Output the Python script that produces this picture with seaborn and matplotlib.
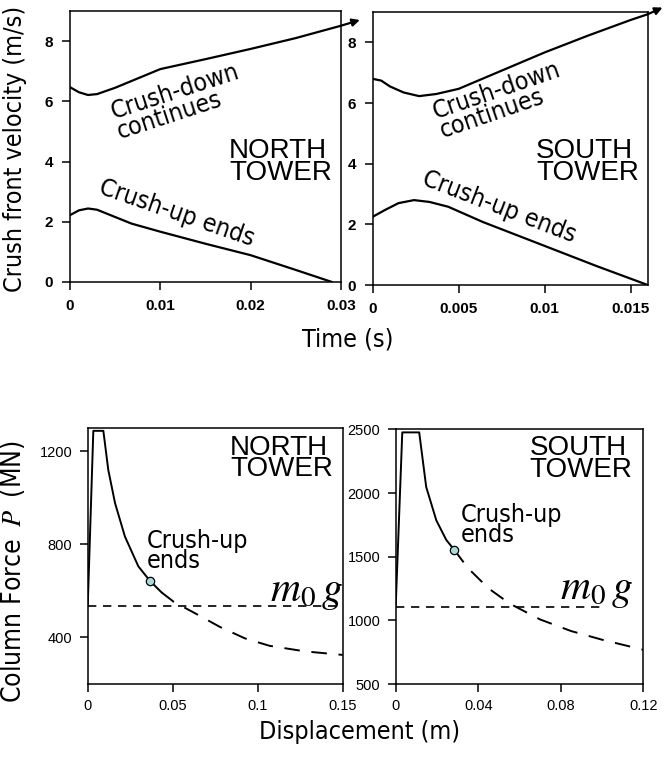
import numpy as np
import pandas as pd
import matplotlib
matplotlib.use("Agg")
import matplotlib.pyplot as plt
from matplotlib import font_manager
import seaborn as sns

# crush front velocity, top panels
north_t_down = [0, 0.001, 0.002, 0.003, 0.005, 0.01, 0.015, 0.02, 0.025, 0.03]
north_v_down = [6.47, 6.30, 6.21, 6.24, 6.45, 7.07, 7.40, 7.74, 8.10, 8.51]
north_t_up = [0, 0.001, 0.002, 0.003, 0.0068, 0.01, 0.015, 0.02, 0.025, 0.029]
north_v_up = [2.22, 2.38, 2.44, 2.40, 1.94, 1.67, 1.27, 0.89, 0.40, 0.0]

south_t_down = [0, 0.0005, 0.001, 0.0018, 0.0027, 0.0037, 0.005, 0.0075, 0.01, 0.0125, 0.015, 0.016]
south_v_down = [6.80, 6.74, 6.55, 6.35, 6.23, 6.30, 6.47, 7.07, 7.67, 8.22, 8.74, 8.93]
south_t_up = [0, 0.0007, 0.0015, 0.0024, 0.0033, 0.0044, 0.0064, 0.01, 0.013, 0.016]
south_v_up = [2.25, 2.47, 2.70, 2.80, 2.74, 2.58, 2.08, 1.29, 0.63, 0.0]

# column force, bottom panels
north_x_solid = [0, 0.0033, 0.0092, 0.0121, 0.0161, 0.0219, 0.0298, 0.0366, 0.0435]
north_P_solid = [533, 1287, 1287, 1119, 976, 833, 705, 643, 593]
north_x_dash = [0.0435, 0.0504, 0.0641, 0.0778, 0.0925, 0.107, 0.128, 0.15]
north_P_dash = [593, 554, 500, 445, 396, 364, 340, 325]
north_end = (0.0366, 643)
north_m0g = 533

south_x_solid = [0, 0.0032, 0.0114, 0.0148, 0.0197, 0.0245, 0.0284]
south_P_solid = [1105, 2476, 2476, 2047, 1785, 1632, 1553]
south_x_dash = [0.0284, 0.035, 0.045, 0.0553, 0.07, 0.085, 0.1, 0.12]
south_P_dash = [1553, 1411, 1251, 1131, 1007, 916, 848, 769]
south_end = (0.0284, 1553)
south_m0g = 1105

sns.set_style("ticks")

# look for a narrow sans face; otherwise use Liberation Sans a bit smaller
narrow, stretch, lab_size = "Liberation Sans", "normal", 17.5
for f in font_manager.fontManager.ttflist:
    if f.style != "normal" or f.weight not in (400, "normal", "regular"):
        continue
    if "Narrow" in f.name or "Condensed" in f.name or f.stretch in ("condensed", "semi-condensed"):
        if "Serif" in f.name or "Mono" in f.name:
            continue
        narrow, stretch, lab_size = f.name, f.stretch, 18
        break

plt.rcParams["font.family"] = ["Liberation Sans", "DejaVu Sans"]
plt.rcParams["mathtext.fontset"] = "stix"
plt.rcParams["text.color"] = "black"
plt.rcParams["axes.labelcolor"] = "black"
plt.rcParams["axes.edgecolor"] = "black"
plt.rcParams["xtick.color"] = "black"
plt.rcParams["ytick.color"] = "black"
plt.rcParams["axes.linewidth"] = 1.1
plt.rcParams["xtick.major.width"] = 1.1
plt.rcParams["ytick.major.width"] = 1.1
plt.rcParams["xtick.major.size"] = 6
plt.rcParams["ytick.major.size"] = 6

fig = plt.figure(figsize=(6.64, 7.58), dpi=100)
ax_tl = fig.add_axes([0.1054, 0.628, 0.408, 0.3575])
ax_tr = fig.add_axes([0.5613, 0.624, 0.4142, 0.360])
ax_bl = fig.add_axes([0.1321, 0.0976, 0.384, 0.338])
ax_br = fig.add_axes([0.5959, 0.0976, 0.3729, 0.336])

lw = 1.6
for ax, td, vd, tu, vu in [(ax_tl, north_t_down, north_v_down, north_t_up, north_v_up),
                           (ax_tr, south_t_down, south_v_down, south_t_up, south_v_up)]:
    sns.lineplot(x=td, y=vd, ax=ax, color="k", lw=lw, sort=False, estimator=None)
    sns.lineplot(x=tu, y=vu, ax=ax, color="k", lw=lw, sort=False, estimator=None)
    ax.set_ylim(0, 9)
    ax.set_yticks([0, 2, 4, 6, 8])

ax_tl.set_xlim(0, 0.03)
ax_tl.set_xticks([0, 0.01, 0.02, 0.03])
ax_tl.set_xticklabels(["0", "0.01", "0.02", "0.03"])
ax_tr.set_xlim(0, 0.016)
ax_tr.set_xticks([0, 0.005, 0.01, 0.015])
ax_tr.set_xticklabels(["0", "0.005", "0.01", "0.015"])

arrow = dict(arrowstyle="-|>", lw=lw, color="k", mutation_scale=11, shrinkA=0, shrinkB=0)
ax_tl.annotate("", xy=(0.0321, 8.70), xytext=(north_t_down[-1], north_v_down[-1]),
               arrowprops=arrow, annotation_clip=False)
ax_tr.annotate("", xy=(0.01686, 9.15), xytext=(south_t_down[-1], south_v_down[-1]),
               arrowprops=arrow, annotation_clip=False)

# bottom panels
for ax, xs, ps, xd, pdash, end, m0g, xmax, hl_end in [
        (ax_bl, north_x_solid, north_P_solid, north_x_dash, north_P_dash, north_end, north_m0g, 0.15, 0.15),
        (ax_br, south_x_solid, south_P_solid, south_x_dash, south_P_dash, south_end, south_m0g, 0.12, 0.101)]:
    sns.lineplot(x=xs, y=ps, ax=ax, color="k", lw=1.4, sort=False, estimator=None)
    sns.lineplot(x=xd, y=pdash, ax=ax, color="k", lw=1.4, sort=False, estimator=None,
                 linestyle=(0, (8, 6)))
    ax.hlines(m0g, 0, hl_end, color="k", lw=1.2, linestyles=(0, (5, 4)))
    ax.plot([end[0]], [end[1]], "o", ms=6, mfc="#aad8dc", mec="k", mew=0.9, zorder=5)
    ax.set_xlim(0, xmax)

ax_bl.set_ylim(200, 1300)
ax_bl.set_yticks([400, 800, 1200])
ax_bl.set_xticks([0, 0.05, 0.1, 0.15])
ax_bl.set_xticklabels(["0", "0.05", "0.1", "0.15"])
ax_br.set_ylim(500, 2500)
ax_br.set_yticks([500, 1000, 1500, 2000, 2500])
ax_br.set_xticks([0, 0.04, 0.08, 0.12])
ax_br.set_xticklabels(["0", "0.04", "0.08", "0.12"])

for ax in (ax_tl, ax_tr):
    ax.tick_params(labelsize=11, pad=6)
    for lab in ax.get_xticklabels() + ax.get_yticklabels():
        lab.set_fontweight("bold")
for ax in (ax_bl, ax_br):
    ax.tick_params(labelsize=10.5, pad=5)

# tower names
tower = dict(fontsize=20, ha="left", va="center", linespacing=0.78, family="Liberation Sans")
ax_tl.text(0.587, 0.443, "NORTH\nTOWER", transform=ax_tl.transAxes, **tower)
ax_tr.text(0.594, 0.45, "SOUTH\nTOWER", transform=ax_tr.transAxes, **tower)
ax_bl.text(0.558, 0.880, "NORTH\nTOWER", transform=ax_bl.transAxes, **tower)
ax_br.text(0.54, 0.883, "SOUTH\nTOWER", transform=ax_br.transAxes, **tower)

# curve annotations
nf = dict(family=narrow, fontstretch=stretch)
note = dict(fontsize=lab_size, ha="center", va="center", rotation_mode="anchor",
            multialignment="left", linespacing=0.8, **nf)
ax_tl.text(0.01196, 5.99, "Crush-down\ncontinues", rotation=18, **note)
ax_tl.text(0.0118, 2.30, "Crush-up ends", rotation=-19, **note)
ax_tr.text(0.00742, 6.11, "Crush-down\ncontinues", rotation=19, **note)
ax_tr.text(0.00738, 2.56, "Crush-up ends", rotation=-21, **note)

up = dict(fontsize=lab_size, ha="left", va="center", linespacing=0.8, **nf)
ax_bl.text(0.0345, 770, "Crush-up\nends", **up)
ax_br.text(0.0315, 1750, "Crush-up\nends", **up)

m0g_txt = r"$m_{\mathit{0}}\,g$"
ax_bl.text(0.107, 556, m0g_txt, fontsize=30, ha="left", va="baseline")
ax_br.text(0.0797, 1171, m0g_txt, fontsize=30, ha="left", va="baseline")

# axis labels
ax_tl.set_ylabel("Crush front velocity (m/s)", fontsize=lab_size, **nf)
ax_tl.yaxis.set_label_coords(-0.158, 0.49)
ax_bl.set_ylabel(r"Column Force $\;P\;$ (MN)", fontsize=lab_size + 1, **nf)
ax_bl.yaxis.set_label_coords(-0.24, 0.44)
fig.text(348 / 664, 1 - 340 / 758, "Time (s)", fontsize=lab_size, ha="center", va="center", **nf)
fig.text(360 / 664, 1 - 732 / 758, "Displacement (m)", fontsize=lab_size, ha="center", va="center", **nf)

fig.savefig("out.png", dpi=100)
